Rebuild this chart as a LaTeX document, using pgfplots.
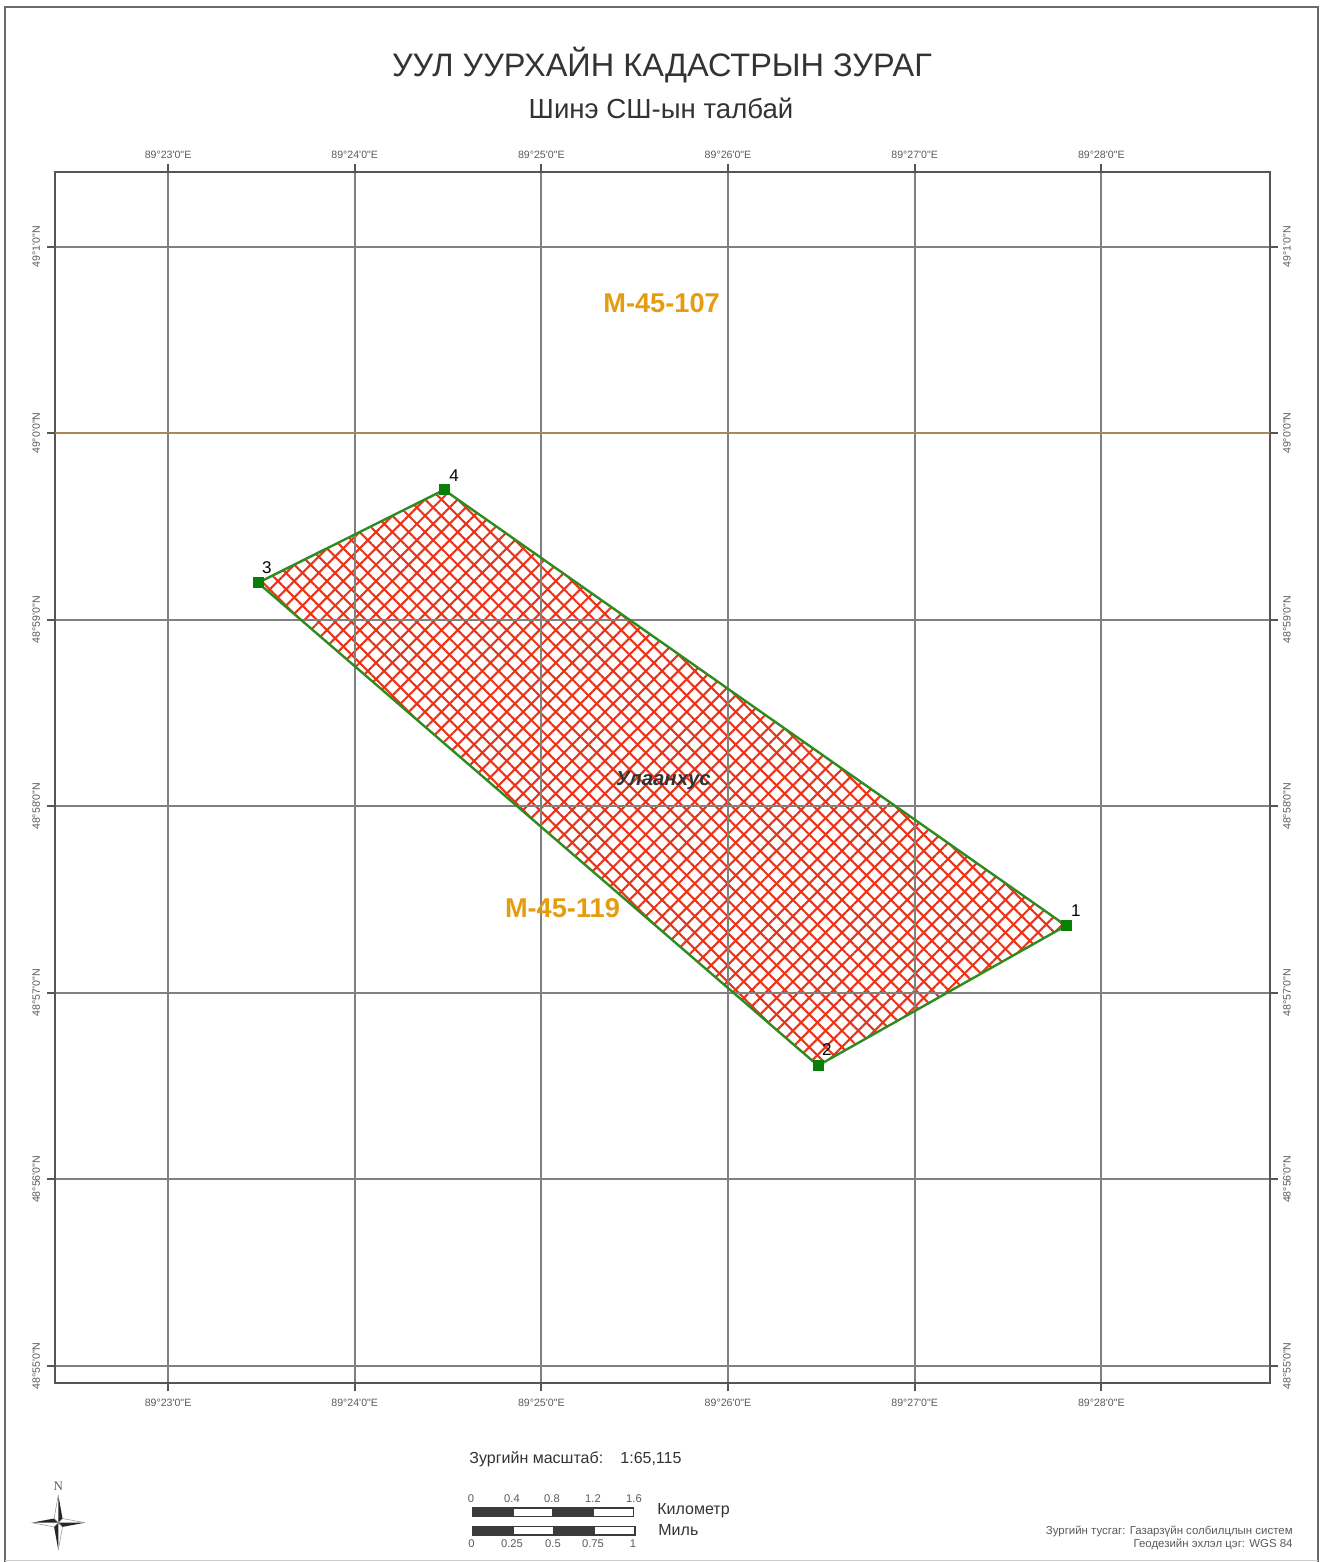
\documentclass[border=0pt]{standalone}
\usepackage{fontspec}
\usepackage{pgfplots}
\usepackage{pgfplotstable}
\pgfplotsset{compat=1.18}
\usetikzlibrary{patterns.meta}
\newfontfamily\ls{Liberation Sans}
\newfontfamily\lsr{Liberation Serif}

\definecolor{framegray}{HTML}{6A6A6A}
\definecolor{axisgray}{HTML}{555555}
\definecolor{gridgray}{HTML}{808080}
\definecolor{ticktext}{HTML}{5A5A5A}
\definecolor{hatchred}{HTML}{EA3318}
\definecolor{linegreen}{HTML}{2E8B1F}
\definecolor{markgreen}{HTML}{068006}
\definecolor{labelorange}{HTML}{E59C0E}
\definecolor{brownline}{HTML}{A58A55}
\definecolor{titletext}{HTML}{333333}

% x = minutes past 89 deg, y = minutes past 48 deg
\pgfplotstableread{
x y
27.811 57.360
26.482 56.610
23.482 59.198
24.479 59.696
}\parcel

\pgfplotsset{mapaxis/.style={
    scale only axis,
    width=607.2pt,
    height=605.65pt,
    at={(27.65pt,89.35pt)},
    anchor=south west,
    xmin=22.396, xmax=28.902,
    ymin=54.907, ymax=61.400,
    xtick={23,24,25,26,27,28},
    ytick={55,56,57,58,59,60,61},
    xticklabels={{89°23'0"E},{89°24'0"E},{89°25'0"E},{89°26'0"E},{89°27'0"E},{89°28'0"E}},
    yticklabels={{48°55'0"N},{48°56'0"N},{48°57'0"N},{48°58'0"N},{48°59'0"N},{49°0'0"N},{49°1'0"N}},
    ticklabel style={font=\fontsize{5.3}{6}\selectfont, text=ticktext},
}}

\begin{document}
\ls
\begin{tikzpicture}
\path[use as bounding box] (0,0) rectangle (659.5pt,781pt);

% main axis: hatching under the grid
\begin{axis}[
    mapaxis,
    axis on top,
    grid=major,
    grid style={color=gridgray, line width=1pt},
    axis line style={color=axisgray, line width=1pt},
    tick align=outside,
    tick pos=both,
    major tick length=4pt,
    tick style={color=axisgray, line width=1pt},
    xticklabel pos=lower,
    yticklabel pos=left,
    xticklabel style={yshift=-2.9pt},
    yticklabel style={xshift=-2.5pt, rotate=90, anchor=south},
    tick label style={inner sep=1pt},
]
\addplot[draw=none, pattern={Lines[angle=45, distance=5.78pt, line width=1.05pt]}, pattern color=hatchred] table[x=x, y=y] {\parcel} -- cycle;
\addplot[draw=none, pattern={Lines[angle=-45, distance=5.78pt, line width=1.05pt]}, pattern color=hatchred] table[x=x, y=y] {\parcel} -- cycle;
\end{axis}

% second axis: top and right labels, outline, corners and names
\begin{axis}[
    mapaxis,
    axis line style={draw=none},
    tick style={draw=none},
    major tick length=4pt,
    tick align=outside,
    xticklabel pos=upper,
    yticklabel pos=right,
    xticklabel style={yshift=1.5pt},
    yticklabel style={xshift=1.5pt, rotate=90, anchor=north},
    tick label style={inner sep=1pt},
]
\addplot[brownline, line width=1pt] coordinates {(22.396,60) (28.902,60)};
\addplot[linegreen, line width=1.2pt] table[x=x, y=y] {\parcel} -- cycle;
\addplot[only marks, mark=square*, mark size=2.5pt, mark options={draw=markgreen, fill=markgreen}] table[x=x, y=y] {\parcel};
\node[text=labelorange, font=\fontsize{13.6}{15}\selectfont\bfseries] at (axis cs:25.644,60.698) {M-45-107};
\node[text=labelorange, font=\fontsize{13.6}{15}\selectfont\bfseries] at (axis cs:25.113,57.456) {M-45-119};
\node[text=titletext, font=\fontsize{10.2}{12}\selectfont\bfseries\itshape] at (axis cs:25.654,58.137) {Улаанхус};
\node[font=\fontsize{8.5}{10}\selectfont] at (axis cs:27.864,57.440) {1};
\node[font=\fontsize{8.5}{10}\selectfont] at (axis cs:26.530,56.695) {2};
\node[font=\fontsize{8.5}{10}\selectfont] at (axis cs:23.530,59.278) {3};
\node[font=\fontsize{8.5}{10}\selectfont] at (axis cs:24.532,59.771) {4};
\end{axis}

% page furniture, in reference pixels from the top left
\begin{scope}[yshift=781pt, x=0.5pt, y=-0.5pt]
\draw[framegray, line width=1pt] (5.3,1562) -- (5.3,6.7) -- (1317.7,6.7) -- (1317.7,1562);
\draw[black!20, line width=0.5pt] (5.3,1561) -- (1317.7,1561);

\node[text=titletext, font=\fontsize{16.25}{20}\selectfont] at (662,65) {УУЛ УУРХАЙН КАДАСТРЫН ЗУРАГ};
\node[text=titletext, font=\fontsize{13.8}{15}\selectfont] at (661,108) {Шинэ СШ-ын талбай};

\node[anchor=west, inner sep=0, text=titletext, font=\fontsize{8}{10}\selectfont] at (469,1459) {Зургийн масштаб:};
\node[anchor=west, inner sep=0, text=titletext, font=\fontsize{8}{10}\selectfont] at (620,1459) {1:65,115};

% scale bars
\fill[axisgray!70!black] (471.7,1507.3) rectangle (634.3,1517.3);
\fill[white] (514,1509) rectangle (552.3,1515.6);
\fill[white] (594.3,1509) rectangle (632.6,1515.6);
\fill[axisgray!70!black] (471.7,1525.7) rectangle (635.5,1535.7);
\fill[white] (514,1527.4) rectangle (552.7,1534);
\fill[white] (595,1527.4) rectangle (633.8,1534);
\foreach \px/\t in {471/0, 512/0.4, 552/0.8, 593/1.2, 634/1.6}
  \node[text=ticktext, font=\fontsize{5.6}{7}\selectfont, inner sep=0] at (\px,1499) {\t};
\foreach \px/\t in {471.5/0, 512/0.25, 553/0.5, 593/0.75, 633/1}
  \node[text=ticktext, font=\fontsize{5.6}{7}\selectfont, inner sep=0] at (\px,1544) {\t};
\node[anchor=west, inner sep=0, text=titletext, font=\fontsize{8}{10}\selectfont] at (657,1511) {Километр};
\node[anchor=west, inner sep=0, text=titletext, font=\fontsize{8}{10}\selectfont] at (658,1530) {Миль};

% north arrow
\node[text=ticktext, font=\lsr\fontsize{6.5}{8}\selectfont] at (58.3,1486.7) {N};
\fill[black!85] (58.3,1495) -- (62.5,1518.5) -- (58.3,1522.7) -- cycle;
\fill[black!85] (85,1522.7) -- (62.5,1526.9) -- (58.3,1522.7) -- cycle;
\fill[black!85] (58.3,1550) -- (54.1,1526.9) -- (58.3,1522.7) -- cycle;
\fill[black!85] (31.7,1522.7) -- (54.1,1518.5) -- (58.3,1522.7) -- cycle;
\draw[black!45, line width=0.25pt] (58.3,1495) -- (54.1,1518.5) -- (58.3,1522.7);
\draw[black!45, line width=0.25pt] (85,1522.7) -- (62.5,1518.5) -- (58.3,1522.7);
\draw[black!45, line width=0.25pt] (58.3,1550) -- (62.5,1526.9) -- (58.3,1522.7);
\draw[black!45, line width=0.25pt] (31.7,1522.7) -- (54.1,1526.9) -- (58.3,1522.7);

\node[anchor=east, inner sep=0, text=ticktext, font=\fontsize{5.72}{7}\selectfont] at (1293,1531.7) {Зургийн тусгаг: Газарзүйн солбилцлын систем};
\node[anchor=east, inner sep=0, text=ticktext, font=\fontsize{5.72}{7}\selectfont] at (1293,1544) {Геодезийн эхлэл цэг: WGS 84};
\end{scope}
\end{tikzpicture}
\end{document}
